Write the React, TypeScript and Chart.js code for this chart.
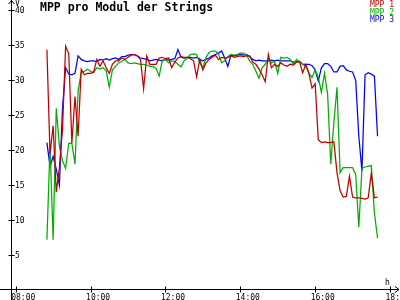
import React, { useEffect, useRef } from "react";
import { Chart, registerables } from "chart.js";

Chart.register(...registerables);

// Sampling: first sample 08:50, every 5 minutes
const startMinutes = 8 * 60 + 50;
const stepMinutes = 5;

const mpp1 = [
  34.4, 19.5, 23.5, 14.0, 17.5, 23.0, 34.9, 33.8, 21.0, 27.7, 22.0, 31.6, 30.8, 31.0, 31.0, 31.2,
  33.0, 32.0, 32.8, 31.8, 31.0, 32.3, 32.8, 32.8, 33.2, 33.0, 33.3, 33.6, 33.7, 33.5, 33.0, 28.8,
  33.5, 32.3, 32.3, 32.3, 33.2, 33.3, 33.1, 33.2, 31.8, 32.6, 33.2, 33.4, 33.3, 33.3, 33.1, 32.8,
  30.5, 33.0, 31.5, 32.5, 33.0, 33.3, 33.6, 33.0, 33.3, 33.2, 33.3, 33.5, 33.3, 33.4, 33.5, 33.4,
  33.5, 33.5, 32.6, 32.3, 31.6, 30.8, 29.8, 33.7, 31.8, 32.3, 32.0, 32.5, 32.2, 32.0, 32.3, 32.2,
  32.6, 32.6, 31.1, 32.3, 31.0, 28.9, 29.5, 21.5, 21.1, 21.2, 21.1, 21.1, 21.2, 16.8, 14.2, 13.3,
  13.4, 16.3, 13.3, 13.2, 13.2, 13.1, 13.0, 13.2, 16.7, 13.2, 13.3,
];

const mpp2 = [
  7.2, 20.6, 7.2, 26.0, 20.6, 18.5, 17.4, 21.0, 21.0, 18.0, 28.5, 31.1, 31.3, 31.6, 31.3, 31.1,
  31.8, 31.6, 31.8, 31.4, 29.0, 31.5, 32.0, 32.5, 32.7, 33.0, 32.5, 32.4, 32.5, 32.4, 32.3, 32.3,
  32.2, 32.0, 32.0, 31.7, 30.6, 32.9, 33.0, 32.5, 32.8, 32.7, 32.3, 31.9, 32.8, 33.2, 33.7, 33.8,
  33.7, 32.5, 31.8, 33.3, 34.0, 34.2, 34.2, 33.8, 32.5, 32.8, 33.4, 33.7, 33.6, 33.7, 33.9, 33.9,
  33.6, 32.8, 32.3, 31.3, 30.3, 31.8, 32.3, 33.2, 32.5, 32.7, 31.0, 33.3, 33.2, 33.3, 33.0, 32.3,
  33.0, 32.6, 32.3, 32.0, 31.0, 30.4, 31.5, 30.5, 28.3, 31.0, 28.0, 18.0, 24.0, 29.0, 16.8, 17.5,
  17.5, 17.5, 17.5, 16.5, 9.0, 17.4, 17.6, 17.7, 17.8, 11.0, 7.4,
];

const mpp3 = [
  21.1, 17.7, 19.1, 17.3, 15.0, 26.0, 31.8, 30.9, 30.8, 31.0, 33.5, 33.0, 32.8, 32.7, 32.8, 32.8,
  32.7, 33.0, 32.9, 33.1, 32.9, 33.1, 33.2, 33.0, 33.4, 33.4, 33.6, 33.7, 33.7, 33.5, 33.2, 33.1,
  33.0, 32.8, 32.9, 33.0, 32.9, 32.8, 33.0, 32.9, 33.0, 33.1, 34.4, 33.3, 33.2, 33.3, 33.3, 33.2,
  33.3, 33.0, 32.8, 33.0, 33.2, 33.5, 33.7, 33.9, 34.2, 33.2, 32.0, 33.6, 33.5, 33.6, 33.7, 33.6,
  33.7, 33.4, 33.0, 32.8, 32.9, 32.8, 32.8, 32.8, 32.9, 32.8, 32.9, 32.8, 32.8, 32.8, 32.8, 32.6,
  32.7, 32.7, 32.3, 32.3, 32.3, 32.1, 31.5, 29.9, 31.8, 32.4, 32.4, 32.0, 31.2, 31.2, 32.0, 32.1,
  31.5, 31.3, 31.2, 30.0, 22.0, 17.0, 30.8, 31.1, 30.9, 30.6, 22.0,
];

const seriesNames = ["MPP 1", "MPP 2", "MPP 3"];
const seriesColors = ["#c00000", "#00b000", "#0000ff"];

const titleText = "MPP pro Modul der Strings";
const yTicks = [5, 10, 15, 20, 25, 30, 35, 40];
const xTickHours = [8, 10, 12, 14, 16, 18];
const xTickLabels = ["08:00", "10:00", "12:00", "14:00", "16:00", "18:00"];
const yUnit = "V";
const xUnit = "h";

const X_MIN = 7.874;
const X_MAX = 18.24;
const Y_MIN = 0;
const Y_MAX = 41.5;

const MONO = '"DejaVu Sans Mono", monospace';

const axesPlugin = {
  id: "customAxes",
  afterDraw(chart: any) {
    const ctx = chart.ctx as CanvasRenderingContext2D;
    const xs = chart.scales.x;
    const ys = chart.scales.y;
    const area = chart.chartArea;
    const ax = Math.round(area.left) + 0.5;
    const ay = Math.round(area.bottom) - 0.5;
    ctx.save();
    ctx.strokeStyle = "#000";
    ctx.fillStyle = "#000";
    ctx.lineWidth = 1;
    ctx.beginPath();
    ctx.moveTo(ax, 0);
    ctx.lineTo(ax, 300);
    ctx.moveTo(0, ay);
    ctx.lineTo(399, ay);
    ctx.moveTo(ax - 3, 4);
    ctx.lineTo(ax, 0.5);
    ctx.lineTo(ax + 3, 4);
    ctx.moveTo(395, ay - 3);
    ctx.lineTo(399, ay);
    ctx.lineTo(395, ay + 3);
    yTicks.forEach((v) => {
      const py = Math.round(ys.getPixelForValue(v)) + 0.5;
      ctx.moveTo(ax - 3, py);
      ctx.lineTo(ax + 3, py);
    });
    xTickHours.forEach((h) => {
      const px = Math.round(xs.getPixelForValue(h)) + 0.5;
      ctx.moveTo(px, ay - 3);
      ctx.lineTo(px, ay + 3);
    });
    ctx.stroke();

    ctx.font = `8px ${MONO}`;
    ctx.textAlign = "left";
    ctx.textBaseline = "middle";
    yTicks.forEach((v) => {
      const py = ys.getPixelForValue(v);
      ctx.fillText(String(v), ax + 3.5, py + 0.5);
    });
    ctx.textBaseline = "alphabetic";
    xTickHours.forEach((h, i) => {
      const px = xs.getPixelForValue(h);
      ctx.fillText(xTickLabels[i], px - 4.5, 299.8);
    });
    ctx.fillText(yUnit, ax + 3.5, 6);
    ctx.fillText(xUnit, 385, 284.5);

    ctx.font = `bold 11.5px ${MONO}`;
    ctx.fillText(titleText, 40, 11);

    ctx.font = `8px ${MONO}`;
    ctx.textAlign = "right";
    seriesNames.forEach((n, i) => {
      ctx.fillStyle = seriesColors[i];
      ctx.fillText(n, 394, 7 + i * 7.5);
    });
    ctx.restore();
  },
};

function toPoints(values: number[]) {
  return values.map((v, i) => ({ x: (startMinutes + i * stepMinutes) / 60, y: v }));
}

export default function App() {
  const ref = useRef<HTMLCanvasElement | null>(null);
  useEffect(() => {
    if (!ref.current) return;
    const chart = new Chart(ref.current, {
      type: "line",
      data: {
        datasets: [mpp1, mpp2, mpp3].map((vals, i) => ({
          label: seriesNames[i],
          data: toPoints(vals),
          borderColor: seriesColors[i],
          backgroundColor: seriesColors[i],
          borderWidth: 1.25,
          pointRadius: 0,
          tension: 0,
          fill: false,
        })),
      },
      options: {
        responsive: false,
        animation: false,
        devicePixelRatio: 1,
        layout: { padding: { left: 11, right: 1, top: 0, bottom: 10 } },
        scales: {
          x: { type: "linear", min: X_MIN, max: X_MAX, display: false },
          y: { type: "linear", min: Y_MIN, max: Y_MAX, display: false },
        },
        plugins: {
          legend: { display: false },
          title: { display: false },
          tooltip: { enabled: false },
        },
      },
      plugins: [axesPlugin],
    });
    return () => chart.destroy();
  }, []);
  return (
    <div
      style={{
        position: "fixed",
        left: 0,
        top: 0,
        width: 400,
        height: 300,
        overflow: "hidden",
        background: "#fff",
      }}
    >
      <canvas ref={ref} width={400} height={300} style={{ width: 400, height: 300, display: "block" }} />
    </div>
  );
}
